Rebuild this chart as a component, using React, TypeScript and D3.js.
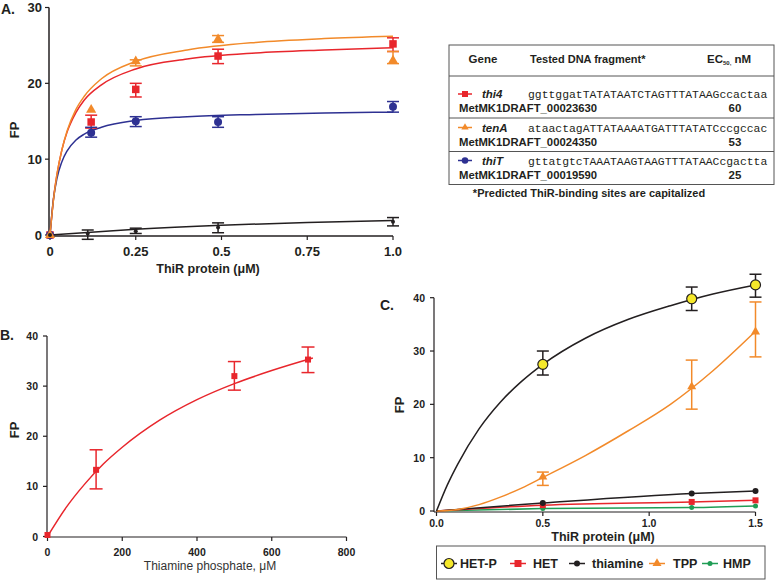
import React from 'react';
import * as d3 from 'd3';

// ---------- Panel A data ----------
const aConc = [0, 0.12, 0.25, 0.49, 1.0];
const thi4FP = [0, 14.9, 19.2, 23.6, 25.2];
const thi4Lo = [0, 14.1, 18.2, 22.6, 24.2];
const thi4Hi = [0, 15.8, 20.0, 24.5, 26.0];
const tenAFP = [0, 16.5, 22.9, 25.8, 23.0];
const tenALo = [0, 16.5, 22.3, 25.4, 22.6];
const tenAHi = [0, 16.5, 23.1, 26.3, 24.2];
const thiTFP = [0, 13.5, 15.0, 14.9, 16.9];
const thiTLo = [0, 12.9, 14.3, 14.2, 16.2];
const thiTHi = [0, 14.2, 15.6, 15.6, 17.6];
const ctrlConc = [0, 0.11, 0.25, 0.49, 1.0];
const ctrlFP = [0, 0.2, 0.5, 1.0, 1.75];
const ctrlLo = [0, -0.57, 0.2, 0.3, 1.2];
const ctrlHi = [0, 0.66, 0.9, 1.6, 2.3];
// fitted curves
const aCurveX = [0, 0.01, 0.02, 0.035, 0.05, 0.075, 0.1, 0.15, 0.25, 0.4, 0.6, 0.8, 1.0];
const thi4Curve = [0, 4.7, 7.9, 11.3, 13.6, 16.1, 17.8, 19.8, 21.9, 23.2, 24.0, 24.4, 24.7];
const tenACurve = [0, 4.6, 7.9, 11.3, 13.75, 16.5, 18.3, 20.6, 22.9, 24.4, 25.4, 25.9, 26.2];
const thiTCurve = [0, 4.7, 7.4, 9.7, 11.1, 12.5, 13.3, 14.2, 15.1, 15.6, 15.9, 16.1, 16.2];
const ctrlCurveX = [0, 0.12, 0.25, 0.5, 0.75, 1.0];
const ctrlCurve = [0, 0.35, 0.75, 1.3, 1.65, 1.9];
const aXTicks = [0, 0.25, 0.5, 0.75, 1.0];
const aXTickLabels = ['0', '0.25', '0.5', '0.75', '1.0'];
const aYTicks = [0, 10, 20, 30];

// ---------- Table ----------
const tableGenes = ['thi4', 'tenA', 'thiT'];
const tableSeqs = [
  'ggttggatTATATAATCTAGTTTATAAGccactaa',
  'ataactagATTATAAAATGATTTATATCccgccac',
  'gttatgtcTAAATAAGTAAGTTTATAACcgactta',
];
const tableLoci = ['MetMK1DRAFT_00023630', 'MetMK1DRAFT_00024350', 'MetMK1DRAFT_00019590'];
const tableEC50 = ['60', '53', '25'];

// ---------- Panel B data ----------
const bConc = [0, 130, 500, 697];
const bFP = [0.3, 13.3, 32.0, 35.3];
const bLo = [0.3, 9.5, 29.2, 32.7];
const bHi = [0.3, 17.3, 34.9, 37.8];
const bCurveX = [0, 50, 100, 150, 200, 300, 400, 500, 600, 710];
const bCurve = [0, 5.8, 10.5, 14.5, 17.8, 23.2, 27.3, 30.5, 33.1, 35.6];
const bXTicks = [0, 200, 400, 600, 800];
const bYTicks = [0, 10, 20, 30, 40];

// ---------- Panel C data ----------
const cConc = [0.5, 1.2, 1.5];
const hetpFP = [27.5, 39.8, 42.4];
const hetpLo = [25.5, 37.6, 40.1];
const hetpHi = [30.0, 42.0, 44.4];
const tppFP = [6.4, 23.3, 33.6];
const tppLo = [4.8, 19.1, 28.9];
const tppHi = [7.3, 28.3, 39.2];
const thiamineFP = [1.5, 3.3, 3.75];
const hetFP = [1.1, 1.7, 2.0];
const hmpFP = [0.45, 0.65, 0.95];
const hetpCurveX = [0, 0.05, 0.1, 0.2, 0.3, 0.4, 0.5, 0.7, 0.9, 1.1, 1.3, 1.5];
const hetpCurve = [0, 4.8, 8.8, 15.4, 20.4, 24.3, 27.5, 32.4, 35.9, 38.5, 40.7, 42.4];
const tppCurveX = [0, 0.1, 0.2, 0.3, 0.4, 0.5, 0.7, 0.9, 1.1, 1.3, 1.5];
const tppCurve = [0, 0.3, 1.2, 2.6, 4.3, 6.3, 10.4, 15.0, 20.0, 26.3, 33.7];
const cXTicks = [0, 0.5, 1.0, 1.5];
const cYTicks = [0, 10, 20, 30, 40];
const cLegend = ['HET-P', 'HET', 'thiamine', 'TPP', 'HMP'];

const RED = '#e8262c';
const ORANGE = '#f28a2a';
const BLUE = '#2e3192';
const BLACK = '#231f20';
const YELLOW = '#f5e82a';
const GREEN = '#1f9d55';
const FONT = '"Liberation Sans", Arial, Helvetica, sans-serif';

type Shape = 'square' | 'triangle' | 'circle';

function Marker({ x, y, shape, size, fill, stroke }: { x: number; y: number; shape: Shape; size: number; fill: string; stroke?: string }) {
  if (shape === 'square') {
    return <rect x={x - size / 2} y={y - size / 2} width={size} height={size} fill={fill} stroke={stroke || 'none'} />;
  }
  if (shape === 'circle') {
    return <circle cx={x} cy={y} r={size / 2} fill={fill} stroke={stroke || 'none'} strokeWidth={1.2} />;
  }
  const p = d3.symbol().type(d3.symbolTriangle).size(size * size * 0.55)();
  return <path d={p || ''} transform={`translate(${x},${y})`} fill={fill} />;
}

function ErrBar({ x, y1, y2, color, cap, w }: { x: number; y1: number; y2: number; color: string; cap: number; w?: number }) {
  if (Math.abs(y1 - y2) < 0.5) return null;
  return (
    <g stroke={color} strokeWidth={w || 1.5}>
      <line x1={x} x2={x} y1={y1} y2={y2} />
      <line x1={x - cap / 2} x2={x + cap / 2} y1={y1} y2={y1} />
      <line x1={x - cap / 2} x2={x + cap / 2} y1={y2} y2={y2} />
    </g>
  );
}

function curvePath(xs: number[], ys: number[], sx: d3.ScaleLinear<number, number>, sy: d3.ScaleLinear<number, number>) {
  const pts = xs.map((x, i) => [x, ys[i]] as [number, number]);
  return d3.line<[number, number]>().x(d => sx(d[0])).y(d => sy(d[1])).curve(d3.curveMonotoneX)(pts) || '';
}

function PanelA() {
  const x = d3.scaleLinear().domain([0, 1]).range([50, 393]);
  const y = d3.scaleLinear().domain([0, 30]).range([235, 7.5]);
  const series = [
    { v: thi4FP, lo: thi4Lo, hi: thi4Hi, c: RED, shape: 'square' as Shape, size: 7.5, curve: thi4Curve, cx: aCurveX, xs: aConc },
    { v: thiTFP, lo: thiTLo, hi: thiTHi, c: BLUE, shape: 'circle' as Shape, size: 8, curve: thiTCurve, cx: aCurveX, xs: aConc },
    { v: tenAFP, lo: tenALo, hi: tenAHi, c: ORANGE, shape: 'triangle' as Shape, size: 9, curve: tenACurve, cx: aCurveX, xs: aConc },
    { v: ctrlFP, lo: ctrlLo, hi: ctrlHi, c: BLACK, shape: 'circle' as Shape, size: 4, curve: ctrlCurve, cx: ctrlCurveX, xs: ctrlConc },
  ];
  return (
    <g fontFamily={FONT}>
      <text x={1} y={14} fontSize={14} fontWeight="bold" fill={BLACK}>A.</text>
      <line x1={49} x2={49} y1={y(30)} y2={236} stroke={BLACK} strokeWidth={1.5} />
      <line x1={49} x2={x(1)} y1={236} y2={236} stroke={BLACK} strokeWidth={1.5} />
      {aYTicks.map(t => (
        <g key={t}>
          <line x1={45} x2={49} y1={y(t)} y2={y(t)} stroke={BLACK} strokeWidth={1.2} />
          <text x={42} y={y(t) + 4.5} fontSize={13} fontWeight="bold" textAnchor="end" fill={BLACK}>{t}</text>
        </g>
      ))}
      {aXTicks.map((t, i) => (
        <g key={t}>
          <line x1={x(t)} x2={x(t)} y1={236} y2={240} stroke={BLACK} strokeWidth={1.2} />
          <text x={x(t)} y={256} fontSize={13} fontWeight="bold" textAnchor="middle" fill={BLACK}>{aXTickLabels[i]}</text>
        </g>
      ))}
      <text x={208} y={273} fontSize={12.5} fontWeight="bold" textAnchor="middle" fill={BLACK}>ThiR protein (μM)</text>
      <text transform={`translate(19,130) rotate(-90)`} fontSize={13} fontWeight="bold" textAnchor="middle" fill={BLACK}>FP</text>
      {series.map((s, k) => (
        <path key={k} d={curvePath(s.cx, s.curve, x, y)} fill="none" stroke={s.c} strokeWidth={1.5} />
      ))}
      {series.map((s, k) => (
        <g key={k}>
          {s.xs.map((c, i) => (
            <g key={i}>
              <ErrBar x={x(c)} y1={y(s.lo[i])} y2={y(s.hi[i])} color={s.c} cap={12} />
              <Marker x={x(c)} y={y(s.v[i])} shape={s.shape} size={s.size} fill={s.c} />
            </g>
          ))}
        </g>
      ))}
    </g>
  );
}

function Table() {
  const left = 449, right = 774, top = 45, bottom = 184.5;
  const rowTops = [76, 118, 151.5];
  const colors = [RED, ORANGE, BLUE];
  const shapes: Shape[] = ['square', 'triangle', 'circle'];
  return (
    <g fontFamily={FONT} fill={BLACK}>
      <rect x={left} y={top} width={right - left} height={bottom - top} fill="none" stroke="#555" strokeWidth={1} />
      {rowTops.map(r => (
        <line key={r} x1={left} x2={right} y1={r} y2={r} stroke="#555" strokeWidth={1} />
      ))}
      <text x={483} y={63} fontSize={11.5} fontWeight="bold" textAnchor="middle">Gene</text>
      <text x={530} y={63} fontSize={11} fontWeight="bold">Tested DNA fragment*</text>
      <text x={707} y={63} fontSize={11.5} fontWeight="bold">
        EC<tspan fontSize={6} dy={2}>50,</tspan><tspan dy={-2}> nM</tspan>
      </text>
      {tableGenes.map((g, i) => {
        const yb = i === 2 ? bottom : rowTops[i + 1];
        const seqY = yb - 24;
        const locY = yb - 10;
        return (
          <g key={g}>
            <line x1={458} x2={472} y1={seqY} y2={seqY} stroke={colors[i]} strokeWidth={1.5} />
            <Marker x={465} y={seqY} shape={shapes[i]} size={i === 0 ? 6 : 6.5} fill={colors[i]} />
            <text x={482} y={seqY + 4} fontSize={11.5} fontWeight="bold" fontStyle="italic">{g}</text>
            <text x={528} y={seqY + 4} fontSize={11.4} fontFamily='"Liberation Mono", "Courier New", monospace'>{tableSeqs[i]}</text>
            <text x={459} y={locY + 4} fontSize={11.3} fontWeight="bold">{tableLoci[i]}</text>
            <text x={735} y={locY + 4} fontSize={11.5} fontWeight="bold" textAnchor="middle">{tableEC50[i]}</text>
          </g>
        );
      })}
      <text x={589} y={197} fontSize={11} fontWeight="bold" textAnchor="middle">*Predicted ThiR-binding sites are capitalized</text>
    </g>
  );
}

function PanelB() {
  const x = d3.scaleLinear().domain([0, 800]).range([47.5, 346.5]);
  const y = d3.scaleLinear().domain([0, 40]).range([536.5, 336]);
  return (
    <g fontFamily={FONT}>
      <text x={0} y={340} fontSize={14} fontWeight="bold" fill={BLACK}>B.</text>
      <line x1={47} x2={47} y1={y(40)} y2={537} stroke={BLACK} strokeWidth={1.2} />
      <line x1={47} x2={x(800)} y1={537} y2={537} stroke={BLACK} strokeWidth={1.2} />
      {bYTicks.map(t => (
        <g key={t}>
          <line x1={43} x2={47} y1={y(t)} y2={y(t)} stroke={BLACK} strokeWidth={1.2} />
          <text x={38} y={y(t) + 4} fontSize={10.5} fontWeight="bold" textAnchor="end" fill="#222">{t}</text>
        </g>
      ))}
      {bXTicks.map(t => (
        <g key={t}>
          <line x1={x(t)} x2={x(t)} y1={537} y2={541} stroke={BLACK} strokeWidth={1.2} />
          <text x={x(t)} y={556} fontSize={10.5} fontWeight="bold" textAnchor="middle" fill="#222">{t}</text>
        </g>
      ))}
      <text x={210} y={570} fontSize={12} textAnchor="middle" fill="#333">Thiamine phosphate, μM</text>
      <text transform={`translate(19,430) rotate(-90)`} fontSize={13} fontWeight="bold" textAnchor="middle" fill={BLACK}>FP</text>
      <path d={curvePath(bCurveX, bCurve, x, y)} fill="none" stroke={RED} strokeWidth={1.5} />
      {bConc.map((c, i) => (
        <g key={i}>
          <ErrBar x={x(c)} y1={y(bLo[i])} y2={y(bHi[i])} color={RED} cap={13} />
          <Marker x={x(c)} y={y(bFP[i])} shape="square" size={6} fill={RED} />
        </g>
      ))}
    </g>
  );
}

function PanelC() {
  const x = d3.scaleLinear().domain([0, 1.5]).range([436.5, 755.5]);
  const y = d3.scaleLinear().domain([0, 40]).range([511, 297.7]);
  const withZero = (v: number[]) => [0, ...v];
  const cxz = withZero(cConc);
  const small = [
    { v: hmpFP, c: GREEN, shape: 'circle' as Shape, size: 5 },
    { v: hetFP, c: RED, shape: 'square' as Shape, size: 6 },
    { v: thiamineFP, c: BLACK, shape: 'circle' as Shape, size: 6 },
  ];
  const legendX = [449, 518, 577, 657, 710];
  const legendTextX = [460, 533, 592, 673, 723];
  const legendLine = [BLACK, RED, BLACK, ORANGE, GREEN];
  const ly = 563.5;
  return (
    <g fontFamily={FONT}>
      <text x={380} y={310} fontSize={14} fontWeight="bold" fill={BLACK}>C.</text>
      <line x1={434} x2={434} y1={y(40)} y2={512} stroke={BLACK} strokeWidth={1.2} />
      <line x1={434} x2={x(1.5)} y1={512} y2={512} stroke={BLACK} strokeWidth={1.2} />
      {cYTicks.map(t => (
        <g key={t}>
          <line x1={430} x2={434} y1={y(t)} y2={y(t)} stroke={BLACK} strokeWidth={1.2} />
          <text x={425} y={y(t) + 4} fontSize={10.5} fontWeight="bold" textAnchor="end" fill="#222">{t}</text>
        </g>
      ))}
      {cXTicks.map(t => (
        <g key={t}>
          <line x1={x(t)} x2={x(t)} y1={512} y2={516} stroke={BLACK} strokeWidth={1.2} />
          <text x={x(t)} y={527} fontSize={10.5} fontWeight="bold" textAnchor="middle" fill="#222">{t.toFixed(1)}</text>
        </g>
      ))}
      <text x={603} y={541} fontSize={12.5} fontWeight="bold" textAnchor="middle" fill={BLACK}>ThiR protein (μM)</text>
      <text transform={`translate(404,405) rotate(-90)`} fontSize={13} fontWeight="bold" textAnchor="middle" fill={BLACK}>FP</text>

      {small.map((s, k) => (
        <path key={k} d={curvePath(cxz, withZero(s.v), x, y)} fill="none" stroke={s.c} strokeWidth={1.5} />
      ))}
      <path d={curvePath(tppCurveX, tppCurve, x, y)} fill="none" stroke={ORANGE} strokeWidth={1.5} />
      <path d={curvePath(hetpCurveX, hetpCurve, x, y)} fill="none" stroke={BLACK} strokeWidth={1.5} />
      {small.map((s, k) => (
        <g key={k}>
          {cConc.map((c, i) => (
            <Marker key={i} x={x(c)} y={y(s.v[i])} shape={s.shape} size={s.size} fill={s.c} />
          ))}
        </g>
      ))}
      {cConc.map((c, i) => (
        <g key={i}>
          <ErrBar x={x(c)} y1={y(tppLo[i])} y2={y(tppHi[i])} color={ORANGE} cap={12} />
          <Marker x={x(c)} y={y(tppFP[i])} shape="triangle" size={8} fill={ORANGE} />
        </g>
      ))}
      {cConc.map((c, i) => (
        <g key={i}>
          <ErrBar x={x(c)} y1={y(hetpLo[i])} y2={y(hetpHi[i])} color={BLACK} cap={12} />
          <Marker x={x(c)} y={y(hetpFP[i])} shape="circle" size={10} fill={YELLOW} stroke={BLACK} />
        </g>
      ))}

      <rect x={436.5} y={546} width={328.5} height={33} fill="none" stroke="#555" strokeWidth={1} />
      {cLegend.map((name, i) => (
        <g key={name}>
          <line x1={legendX[i] - 8} x2={legendX[i] + 8} y1={ly} y2={ly} stroke={legendLine[i]} strokeWidth={1.5} />
          {i === 0 && <Marker x={legendX[i]} y={ly} shape="circle" size={10} fill={YELLOW} stroke={BLACK} />}
          {i === 1 && <Marker x={legendX[i]} y={ly} shape="square" size={7} fill={RED} />}
          {i === 2 && <Marker x={legendX[i]} y={ly} shape="circle" size={6} fill={BLACK} />}
          {i === 3 && <Marker x={legendX[i]} y={ly} shape="triangle" size={8} fill={ORANGE} />}
          {i === 4 && <Marker x={legendX[i]} y={ly} shape="circle" size={5} fill={GREEN} />}
          <text x={legendTextX[i]} y={ly + 4.5} fontSize={12.5} fontWeight="bold" fill={BLACK}>{name}</text>
        </g>
      ))}
    </g>
  );
}

export default function App() {
  return (
    <svg width={777} height={580} viewBox="0 0 777 580" style={{ position: 'absolute', left: 0, top: 0, background: '#fff' }}>
      <rect x={0} y={0} width={777} height={580} fill="#fff" />
      <PanelA />
      <Table />
      <PanelB />
      <PanelC />
    </svg>
  );
}
